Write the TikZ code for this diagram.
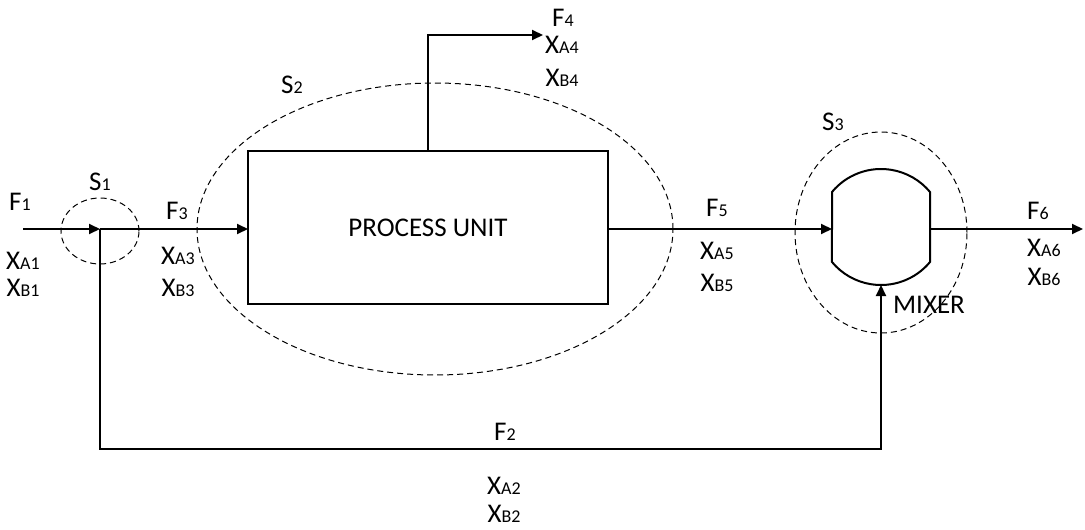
\documentclass[tikz,border=0pt]{standalone}
\usepackage{fontspec}
\setmainfont{Carlito}
\usetikzlibrary{arrows.meta}
\newcommand{\lsub}[1]{{\fontsize{18}{18}\selectfont #1}}
\begin{document}
\begin{tikzpicture}[x=1pt,y=-1pt,
  flow/.style={line width=2pt,-{Triangle[length=11pt,width=10pt]}},
  env/.style={line width=1pt,dash pattern=on 6pt off 4pt},
  lbl/.style={inner sep=0pt,font=\fontsize{27}{27}\selectfont}]
\useasboundingbox (0,0) rectangle (1085,530);
% process unit
\node[draw,line width=1.5pt,minimum width=360pt,minimum height=153pt,inner sep=0pt,lbl] (box) at (428,227.5) {PROCESS UNIT};
% coordinates
\coordinate (in) at (23,229);
\coordinate (s1c) at (100,229);
\coordinate (bin) at (248,229);
\coordinate (bout) at (608,229);
\coordinate (mixL) at (832,229);
\coordinate (mixR) at (930,229);
\coordinate (mixB) at (881,285);
\coordinate (out6) at (1083,229);
\coordinate (top4) at (428,151);
\coordinate (c4) at (428,35);
\coordinate (out4) at (543,35);
\coordinate (r1) at (100,449);
\coordinate (r2) at (881,449);
% mixer
\draw[line width=2pt] (832,192) arc[start angle=140.3,end angle=39.7,radius=63.7pt]
  -- (930,262) arc[start angle=-39.7,end angle=-140.3,radius=63.7pt] -- cycle;
% envelopes
\draw[env] (100,231) ellipse [x radius=39pt,y radius=33pt];
\draw[env] (435,229) ellipse [x radius=238pt,y radius=146pt];
\draw[env] (881,232.5) ellipse [x radius=86pt,y radius=100.5pt];
% streams
\draw[flow] (in) -- (s1c);
\draw[flow] (s1c) -- (bin);
\draw[flow] (top4) -- (c4) -- (out4);
\draw[flow] (bout) -- (mixL);
\draw[flow] (mixR) -- (out6);
\draw[flow] (s1c) -- (r1) -- (r2) -- (mixB);
% labels
\node[lbl] (lF1) at (20,202) {F\lsub{1}};
\node[lbl] (lXA1) at (23,261) {X\lsub{A1}};
\node[lbl] (lXB1) at (23,288) {X\lsub{B1}};
\node[lbl] (lS1) at (100,182) {S\lsub{1}};
\node[lbl] (lF3) at (177,211) {F\lsub{3}};
\node[lbl] (lXA3) at (178,256) {X\lsub{A3}};
\node[lbl] (lXB3) at (178,288) {X\lsub{B3}};
\node[lbl] (lS2) at (292,85) {S\lsub{2}};
\node[lbl] (lF4) at (563,18) {F\lsub{4}};
\node[lbl] (lXA4) at (562,45) {X\lsub{A4}};
\node[lbl] (lXB4) at (562,78) {X\lsub{B4}};
\node[lbl] (lF5) at (717,208) {F\lsub{5}};
\node[lbl] (lXA5) at (717,251) {X\lsub{A5}};
\node[lbl] (lXB5) at (717,283) {X\lsub{B5}};
\node[lbl] (lS3) at (833,122) {S\lsub{3}};
\node[lbl] (lF6) at (1038,211) {F\lsub{6}};
\node[lbl] (lXA6) at (1044,248) {X\lsub{A6}};
\node[lbl] (lXB6) at (1044,277) {X\lsub{B6}};
\node[lbl] (lmix) at (929,305) {MIXER};
\node[lbl] (lF2) at (505,432) {F\lsub{2}};
\node[lbl] (lXA2) at (504,486) {X\lsub{A2}};
\node[lbl] (lXB2) at (504,514) {X\lsub{B2}};
\end{tikzpicture}
\end{document}
